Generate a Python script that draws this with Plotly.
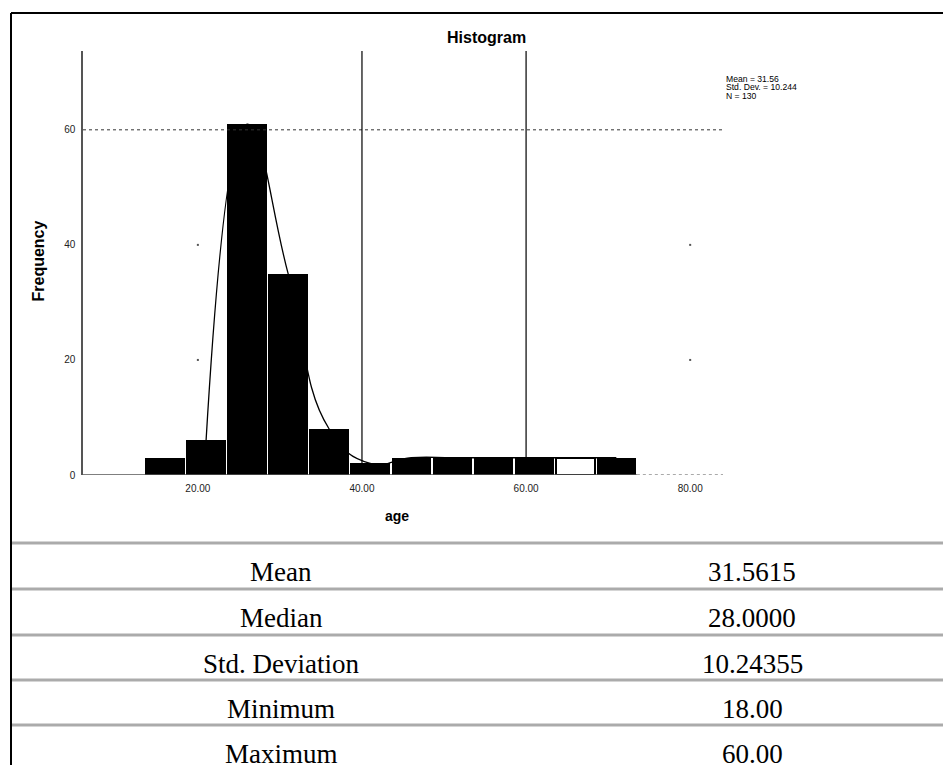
import plotly.graph_objects as go

# ---------------- data ----------------
bin_edges = [13.5, 18.5, 23.5, 28.5, 33.5, 38.5, 43.5, 48.5, 53.5, 58.5, 63.5, 68.5, 73.5]
counts = [3, 6, 61, 35, 8, 2, 3, 3, 3, 3, 3, 3]
x_ticks = [20, 40, 60, 80]
x_tick_labels = ["20.00", "40.00", "60.00", "80.00"]
y_ticks = [0, 20, 40, 60]
ref_x = [40, 60]
ref_y = [60]
legend_lines = ["Mean = 31.56", "Std. Dev. = 10.244", "N = 130"]
stats_labels = ["Mean", "Median", "Std. Deviation", "Minimum", "Maximum"]
stats_values = ["31.5615", "28.0000", "10.24355", "18.00", "60.00"]

# ---------------- layout geometry (screen pixels) ----------------
OFF = 8  # page body margin
SW, SH = 951, 765
W, H = SW - OFF, SH - OFF
PLOT_L, PLOT_T, PW, PH = 83, 51, 640, 424  # screen coords of plot area
ML, MT = PLOT_L - OFF, PLOT_T - OFF
MR, MB = W - ML - PW, H - MT - PH
X_RANGE = [6, 84]
Y_RANGE = [0, 73.7]


def px(x):
    return (x - PLOT_L) / PW


def py(y):
    return (PLOT_T + PH - y) / PH


SANS = "Liberation Sans, Arial, sans-serif"
SERIF = "Liberation Serif, Times New Roman, serif"

centers = [(a + b) / 2 for a, b in zip(bin_edges[:-1], bin_edges[1:])]
widths = [(b - a) * 0.96 for a, b in zip(bin_edges[:-1], bin_edges[1:])]
hollow = len(counts) - 2
fills = ["white" if i == hollow else "black" for i in range(len(counts))]
outline_w = [2 if i == hollow else 0 for i in range(len(counts))]

fig = go.Figure()
fig.add_trace(go.Bar(
    x=centers, y=counts, width=widths,
    marker=dict(color=fills, line=dict(color="black", width=outline_w)),
    hoverinfo="x+y", showlegend=False,
))
fig.add_trace(go.Scatter(
    x=centers[1:], y=counts[1:], mode="lines",
    line=dict(color="black", width=1.3, shape="spline", smoothing=1.3),
    showlegend=False, hoverinfo="skip",
))
# sparse grid dots
gx, gy = [], []
for xv in (x_ticks[0], x_ticks[-1]):
    for yv in y_ticks[1:3]:
        gx.append(xv)
        gy.append(yv)
fig.add_trace(go.Scatter(
    x=gx, y=gy, mode="markers",
    marker=dict(symbol="square", size=2, color="#555"),
    showlegend=False, hoverinfo="skip",
))

shapes = []
for v in ref_y:
    shapes.append(dict(type="line", xref="paper", yref="y", x0=0, x1=1, y0=v, y1=v,
                       line=dict(color="#333", width=1, dash="dot")))
for v in ref_x:
    shapes.append(dict(type="line", xref="x", yref="paper", x0=v, x1=v, y0=0, y1=1,
                       line=dict(color="black", width=1.2)))
shapes.append(dict(type="line", xref="x", yref="y", x0=X_RANGE[0], x1=bin_edges[-1], y0=0, y1=0,
                   line=dict(color="#555", width=1.5)))
shapes.append(dict(type="line", xref="x", yref="y", x0=bin_edges[-1], x1=X_RANGE[1], y0=0, y1=0,
                   line=dict(color="#555", width=1, dash="dot")))
# outer frame (top + left)
shapes.append(dict(type="line", xref="paper", yref="paper", x0=px(11), x1=px(SW + 5), y0=py(13), y1=py(13),
                   line=dict(color="black", width=2)))
shapes.append(dict(type="line", xref="paper", yref="paper", x0=px(11), x1=px(11), y0=py(13), y1=py(SH + 5),
                   line=dict(color="black", width=2)))
# table row separators
for yy in (543, 589, 635, 680, 725):
    shapes.append(dict(type="line", xref="paper", yref="paper", x0=px(12), x1=px(SW + 5), y0=py(yy), y1=py(yy),
                       line=dict(color="#ababab", width=3)))

ann = []
ann.append(dict(text="<b>Histogram</b>", x=px(486), y=py(38), xref="paper", yref="paper",
                showarrow=False, xanchor="center", yanchor="middle",
                font=dict(family=SANS, size=16, color="black")))
ann.append(dict(text="<b>age</b>", x=px(397), y=py(516), xref="paper", yref="paper",
                showarrow=False, xanchor="center", yanchor="middle",
                font=dict(family=SANS, size=14, color="black")))
ann.append(dict(text="<b>Frequency</b>", x=px(38.5), y=py(261), xref="paper", yref="paper",
                showarrow=False, xanchor="center", yanchor="middle", textangle=-90,
                font=dict(family=SANS, size=16, color="black")))
for i, line in enumerate(legend_lines):
    ann.append(dict(text=line, x=px(724), y=py(78.5 + 8.7 * i), xref="paper", yref="paper",
                    showarrow=False, xanchor="left", yanchor="middle",
                    font=dict(family=SANS, size=8.6, color="black")))
row_centers = [572, 618, 663.5, 709, 754]
for lab, val, yc in zip(stats_labels, stats_values, row_centers):
    ann.append(dict(text=lab, x=px(281), y=py(yc), xref="paper", yref="paper",
                    showarrow=False, xanchor="center", yanchor="middle",
                    font=dict(family=SERIF, size=27, color="black")))
    ann.append(dict(text=val, x=px(752), y=py(yc), xref="paper", yref="paper",
                    showarrow=False, xanchor="center", yanchor="middle",
                    font=dict(family=SERIF, size=27, color="black")))

fig.update_layout(
    width=W, height=H,
    margin=dict(l=ML, r=MR, t=MT, b=MB, pad=0),
    paper_bgcolor="white", plot_bgcolor="white",
    bargap=0, showlegend=False,
    shapes=shapes, annotations=ann,
    xaxis=dict(range=X_RANGE, tickvals=x_ticks, ticktext=x_tick_labels,
               showgrid=False, zeroline=False, showline=False,
               ticks="outside", ticklen=4, tickcolor="rgba(0,0,0,0)",
               tickfont=dict(family=SANS, size=10, color="#222")),
    yaxis=dict(range=Y_RANGE, tickvals=y_ticks,
               showgrid=False, zeroline=False, showline=True, linecolor="#555", linewidth=1.5,
               ticks="outside", ticklen=4, tickcolor="rgba(0,0,0,0)",
               tickfont=dict(family=SANS, size=10, color="#222")),
)

fig.write_html("out.html")
